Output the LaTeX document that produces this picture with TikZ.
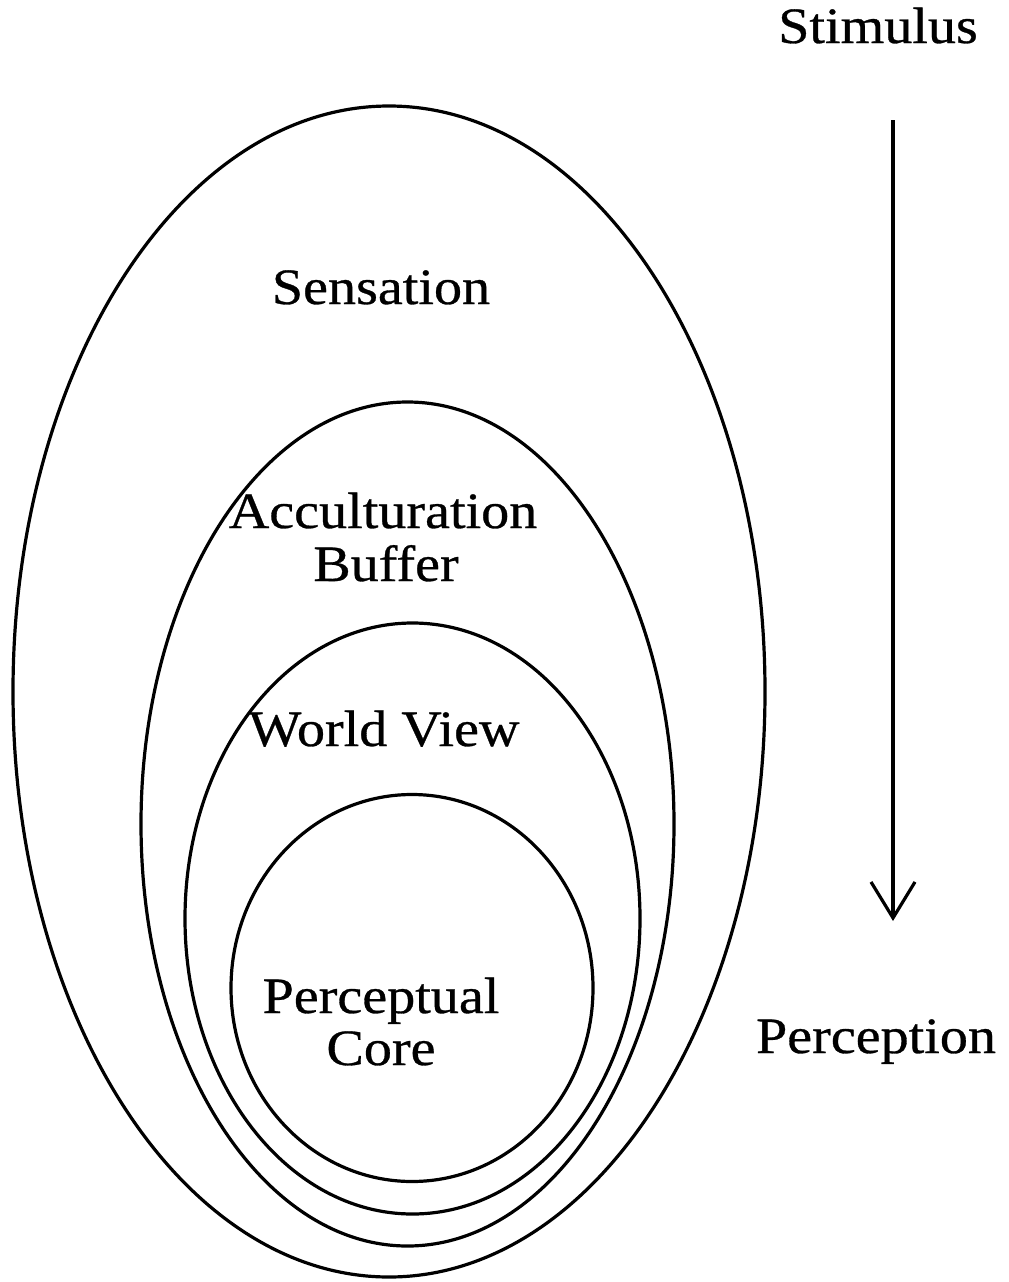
\documentclass[tikz,border=0pt]{standalone}
\usepackage{fontspec}
\setmainfont{Liberation Serif}[FakeStretch=1.1,FakeBold=0.6]
\usetikzlibrary{shapes.geometric,arrows.meta}
\begin{document}
\begin{tikzpicture}[x=1pt,y=-1pt,
  ring/.style={draw, ellipse, line width=3.2pt, inner sep=0pt, outer sep=0pt},
  lbl/.style={font=\fontsize{51}{52}\selectfont, anchor=base, inner sep=0pt}]
\useasboundingbox (0,0) rectangle (1009,1282);
% rings
\node[ring, minimum width=752pt, minimum height=1171pt] (sensring) at (389,691.5) {};
\node[ring, minimum width=533pt, minimum height=844pt] (accring) at (407.5,824) {};
\node[ring, minimum width=455pt, minimum height=591pt] (wvring) at (412.5,918.5) {};
\node[ring, minimum width=362pt, minimum height=387pt] (corering) at (412,988) {};
% labels
\node[lbl] (stim) at (878,43) {Stimulus};
\node[lbl] (sens) at (381,304) {Sensation};
\node[lbl] (acc) at (383,528) {Acculturation};
\node[lbl] (buf) at (386,581) {Buffer};
\node[lbl] (wv) at (384,746) {World View};
\node[lbl] (perc) at (381,1013) {Perceptual};
\node[lbl] (core) at (381,1065) {Core};
\node[lbl] (perception) at (876,1053) {Perception};
% arrow
\coordinate (arrtop) at (893,120);
\coordinate (arrtip) at (893,921);
\draw[line width=3.2pt, -{Straight Barb[length=36pt,width=44pt,line width=3.2pt]}] (arrtop) -- (arrtip);
\end{tikzpicture}
\end{document}
